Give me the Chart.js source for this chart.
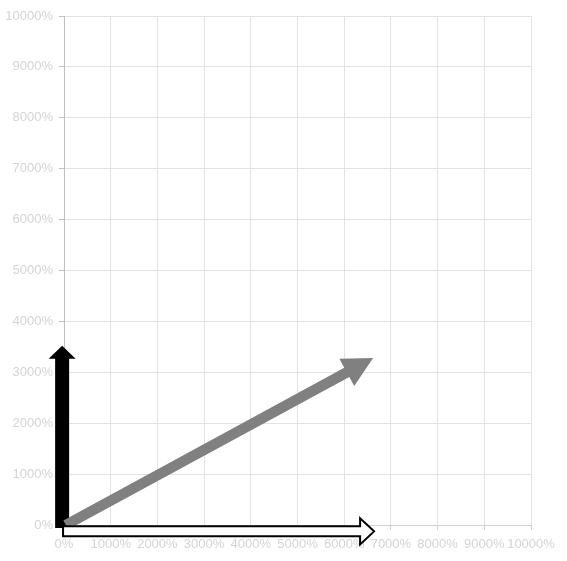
<!DOCTYPE html>
<html>
<head>
<meta charset="utf-8">
<script src="https://cdn.jsdelivr.net/npm/chart.js@4/dist/chart.umd.min.js"></script>
<style>
  html, body { margin: 0; padding: 0; background: #fff; }
  #wrap { width: 567px; height: 561px; }
</style>
</head>
<body>
<div id="wrap"><canvas id="chart"></canvas></div>
<script>
// arrow start and end points, in axis percent
var blackArrow = [{ x: -40, y: -60 }, { x: -40, y: 3520 }];
var grayArrow = [{ x: 40, y: 0 }, { x: 6620, y: 3280 }];
var whiteArrow = [{ x: -20, y: -125 }, { x: 6640, y: -125 }];
var xTicks = [0, 1000, 2000, 3000, 4000, 5000, 6000, 7000, 8000, 9000, 10000];
var yTicks = [0, 1000, 2000, 3000, 4000, 5000, 6000, 7000, 8000, 9000, 10000];

// draws a block arrow between the two points of each dataset
var arrowPlugin = {
  id: 'arrows',
  afterDatasetsDraw: function (chart) {
    var ctx = chart.ctx;
    var xs = chart.scales.x, ys = chart.scales.y;
    chart.data.datasets.forEach(function (ds) {
      var a = ds.arrow;
      var x0 = xs.getPixelForValue(ds.data[0].x), y0 = ys.getPixelForValue(ds.data[0].y);
      var x1 = xs.getPixelForValue(ds.data[1].x), y1 = ys.getPixelForValue(ds.data[1].y);
      var len = Math.hypot(x1 - x0, y1 - y0);
      var ux = (x1 - x0) / len, uy = (y1 - y0) / len;
      var nx = -uy, ny = ux;
      var bx = x1 - ux * a.headLen, by = y1 - uy * a.headLen;
      var s = a.shaft / 2, h = a.head / 2;
      ctx.save();
      ctx.beginPath();
      ctx.moveTo(x0 + nx * s, y0 + ny * s);
      ctx.lineTo(bx + nx * s, by + ny * s);
      ctx.lineTo(bx + nx * h, by + ny * h);
      ctx.lineTo(x1, y1);
      ctx.lineTo(bx - nx * h, by - ny * h);
      ctx.lineTo(bx - nx * s, by - ny * s);
      ctx.lineTo(x0 - nx * s, y0 - ny * s);
      ctx.closePath();
      ctx.fillStyle = a.fill;
      ctx.fill();
      if (a.stroke) {
        ctx.lineWidth = a.strokeWidth;
        ctx.strokeStyle = a.stroke;
        ctx.lineJoin = 'miter';
        ctx.stroke();
      }
      ctx.restore();
    });
  }
};

new Chart(document.getElementById('chart').getContext('2d'), {
  type: 'scatter',
  data: {
    datasets: [{
      label: 'black',
      data: blackArrow,
      pointRadius: 0,
      showLine: false,
      arrow: { shaft: 14, head: 27, headLen: 13, fill: '#000000' }
    }, {
      label: 'gray',
      data: grayArrow,
      pointRadius: 0,
      showLine: false,
      arrow: { shaft: 10.5, head: 31, headLen: 30, fill: '#808080' }
    }, {
      label: 'white',
      data: whiteArrow,
      pointRadius: 0,
      showLine: false,
      arrow: { shaft: 10, head: 26, headLen: 14, fill: '#ffffff', stroke: '#000000', strokeWidth: 2 }
    }]
  },
  plugins: [arrowPlugin],
  options: {
    responsive: true,
    maintainAspectRatio: false,
    animation: false,
    layout: { padding: { top: 16, right: 36, left: 0, bottom: 0 } },
    plugins: {
      legend: { display: false },
      tooltip: { enabled: false }
    },
    scales: {
      x: {
        type: 'linear',
        min: 0,
        max: 10000,
        afterBuildTicks: function (axis) {
          axis.ticks = xTicks.map(function (v) { return { value: v }; });
        },
        afterFit: function (axis) { axis.height = 36; },
        grid: { color: '#e3e3e3', tickColor: '#d0d0d0', tickLength: 5 },
        border: { color: '#d0d0d0' },
        ticks: {
          color: '#d4d4d4',
          font: { family: 'Liberation Sans', size: 13 },
          padding: 7,
          maxRotation: 0,
          autoSkip: false,
          callback: function (v) { return v + '%'; }
        }
      },
      y: {
        type: 'linear',
        min: 0,
        max: 10000,
        afterBuildTicks: function (axis) {
          axis.ticks = yTicks.map(function (v) { return { value: v }; });
        },
        afterFit: function (axis) { axis.width = 64; },
        grid: { color: '#e3e3e3', tickColor: '#c0c0c0', tickLength: 5 },
        border: { color: '#bfbfbf' },
        ticks: {
          color: '#d4d4d4',
          font: { family: 'Liberation Sans', size: 13 },
          padding: 6,
          callback: function (v) { return v + '%'; }
        }
      }
    }
  }
});
</script>
</body>
</html>
